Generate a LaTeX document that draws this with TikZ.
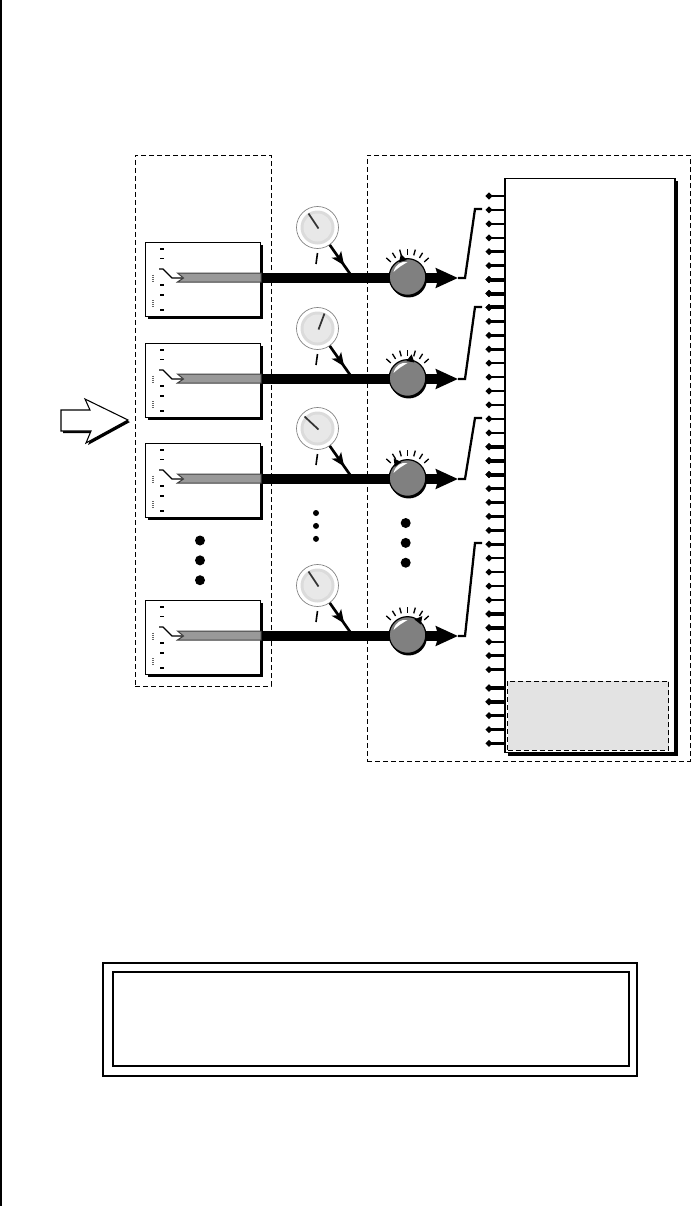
\documentclass[tikz,border=0pt]{standalone}
\usepackage{tikz}
\usetikzlibrary{arrows.meta,positioning,calc,backgrounds,shadows,decorations.markings}

\begin{document}
\begin{tikzpicture}[
  x=0.75pt, y=-0.75pt,
  zone/.style={draw, line width=0.75pt, dash pattern=on 3.8pt off 2.2pt, inner sep=0pt},
  patchbox/.style={draw, fill=white, line width=1.1pt, inner sep=0pt, minimum width=86pt, minimum height=55.5pt,
    drop shadow={shadow xshift=1.7pt, shadow yshift=-1.7pt, fill=black, opacity=1}},
  unitbox/.style={draw, fill=white, line width=0.9pt, inner sep=0pt, minimum width=127.5pt, minimum height=431pt,
    drop shadow={shadow xshift=2pt, shadow yshift=-2pt, fill=black, opacity=1}},
  dial/.style={circle, draw=black!50, fill=white, line width=0.5pt, inner sep=0pt, minimum size=31.5pt},
  dialring/.style={circle, fill=black!14, inner sep=0pt, minimum size=25.5pt},
  dialface/.style={circle, fill=black!9, inner sep=0pt, minimum size=21pt},
  knob/.style={circle, draw, fill=black!50, line width=0.9pt, inner sep=0pt, minimum size=27.5pt,
    drop shadow={shadow xshift=0.8pt, shadow yshift=-1.6pt, fill=black, opacity=1}},
  bigdot/.style={circle, fill, inner sep=0pt, minimum size=7.5pt},
  smalldot/.style={circle, fill, inner sep=0pt, minimum size=4.5pt},
  frame/.style={draw, line width=1.5pt, inner sep=0pt},
  bus/.style={line width=7pt},
  outarr/.style={line width=7pt, -{Stealth[length=16.5pt, width=14.5pt, inset=2pt]}},
  wire/.style={line width=1.7pt, line join=miter},
  modarr/.style={line width=2pt, postaction={decorate},
    decoration={markings, mark=at position 0.62 with {\arrow{Stealth[length=10pt, width=8.5pt, inset=2.5pt]}}}},
  pin/.style={line width=1.9pt, {Circle[length=4.5pt, width=4.5pt]}-},
  fatpin/.style={line width=3pt, {Circle[length=4.5pt, width=4.5pt]}-},
]
\useasboundingbox (0,0) rectangle (692,1206);
\draw[line width=1.5pt] (1,0) -- (1,1206);

\node[zone, minimum width=102pt, minimum height=398.25pt] (bank) at (203,420.5) {};
\node[zone, minimum width=242.25pt, minimum height=454.5pt] (section) at (528.5,458) {};

\node[unitbox] (unit) at (590,465.5) {};
\node[draw, fill=black!11, line width=0.75pt, dash pattern=on 3.8pt off 2.2pt, inner sep=0pt,
  minimum width=121pt, minimum height=51.75pt] (reserved) at (588.25,715.5) {};

\foreach \i in {0,...,34} {
  \coordinate (pin\i) at (486,{196+13.93*\i});
  \draw[pin] (pin\i) -- (pin\i -| unit.west);
}
\foreach \i in {35,...,39} {
  \coordinate (pin\i) at (486,{688+13.85*(\i-35)});
  \draw[pin] (pin\i) -- (pin\i -| unit.west);
}
\foreach \i in {6,7,8,18,19,20,30,31,35,36} {
  \draw[fatpin] (pin\i) -- (pin\i -| unit.west);
}

\foreach \row/\yc/\nx/\ny/\ptr/\py in {1/278/-10/-15/-106/209, 2/379/6/-16/-80/307, 3/479/-14/-13/-125/418, 4/636/-10/-15/-52/543} {
  \node[patchbox] (patch\row) at (203,\yc+1.5) {};
  \node[dial] (dial\row) at (317.5,\yc-50.5) {};
  \node[dialring] (ring\row) at (dial\row) {};
  \node[dialface] (face\row) at (dial\row) {};
  \node[knob] (level\row) at (407.5,\yc-1) {};
  \coordinate (tap\row) at (353,\yc);
  \coordinate (tip\row) at (458,\yc);
  \coordinate (bend\row) at (465,\yc);
  \coordinate (top\row) at (475,\py);
  \coordinate (bus\row) at (482,\py);

  \begin{scope}[on background layer]
    \draw[bus] (patch\row.east |- tap\row) -- (level\row.center |- tap\row);
    \draw[outarr] (level\row.center |- tap\row) -- (tip\row);
  \end{scope}
  \draw[modarr] (dial\row) -- (tap\row);
  \draw[wire] (tip\row) -- (bend\row) -- (top\row) -- (bus\row);

  \draw[line width=1.3pt, black!80] (dial\row.center) ++(1,1) -- ++(\nx,\ny);
  \draw[line width=1.2pt] (316,\yc-14) -- (317.5,\yc-25);

  \foreach \t in {-42,-58,-74,-90,-106,-122,-138} {
    \draw[line width=1pt] ($(level\row.center)+(\t:22.5)$) -- ($(level\row.center)+(\t:28.5)$);
  }
  \fill ($(level\row.center)+(\ptr-14:17)$) -- ($(level\row.center)+(\ptr:24)$) -- ($(level\row.center)+(\ptr+14:17)$) -- cycle;
  \fill[white, shift={(level\row.center)}] (-14,-5) .. controls (-12,-13) and (-6,-16) .. (0,-15) .. controls (-5,-12) and (-10,-9) .. (-14,-5) -- cycle;

  \draw[draw=black!75, fill=black!40, line width=0.75pt] (177.5,\yc-5) -- (patch\row.east |- 0,\yc-5) -- (patch\row.east |- 0,\yc+4) -- (177.5,\yc+4) -- (183.5,\yc) -- cycle;
  \foreach \t in {-29,-19.5,7,17,32} {
    \draw[line width=0.9pt] (160,\yc+\t) -- (164,\yc+\t);
  }
  \draw[line width=0.9pt] (159,\yc-9) -- (163,\yc-9) -- (172,\yc) -- (182,\yc);
  \draw[black!60, line width=1pt, dash pattern=on 0.75pt off 0.75pt] (153,\yc-3.5) -- (153,\yc+3);
  \draw[black!60, line width=1pt, dash pattern=on 0.75pt off 0.75pt] (153,\yc+22) -- (153,\yc+29);
}

\node[bigdot] (gapa) at (200,540.5) {};
\node[bigdot, below=7pt of gapa] (gapb) {};
\node[bigdot, below=7pt of gapb] (gapc) {};
\node[smalldot] (gapd) at (316,513) {};
\node[smalldot, below=4.8pt of gapd] (gape) {};
\node[smalldot, below=4.8pt of gape] (gapf) {};
\node[bigdot] (gapg) at (405.7,523) {};
\node[bigdot, below=7pt of gapg] (gaph) {};
\node[bigdot, below=7pt of gaph] (gapi) {};

\draw[fill=white, line width=0.8pt, line join=miter, drop shadow={shadow xshift=1.5pt, shadow yshift=-1.5pt, fill=black, opacity=1}]
  (61,410) -- (90,410) -- (85,399) -- (128,420) -- (86,443) -- (91,431) -- (61,431) -- cycle;

\node[frame, minimum width=400pt, minimum height=84.75pt] (outerframe) at (370,1019) {};
\node[frame, minimum width=387pt, minimum height=70.5pt] (innerframe) at (371,1019) {};
\end{tikzpicture}
\end{document}
